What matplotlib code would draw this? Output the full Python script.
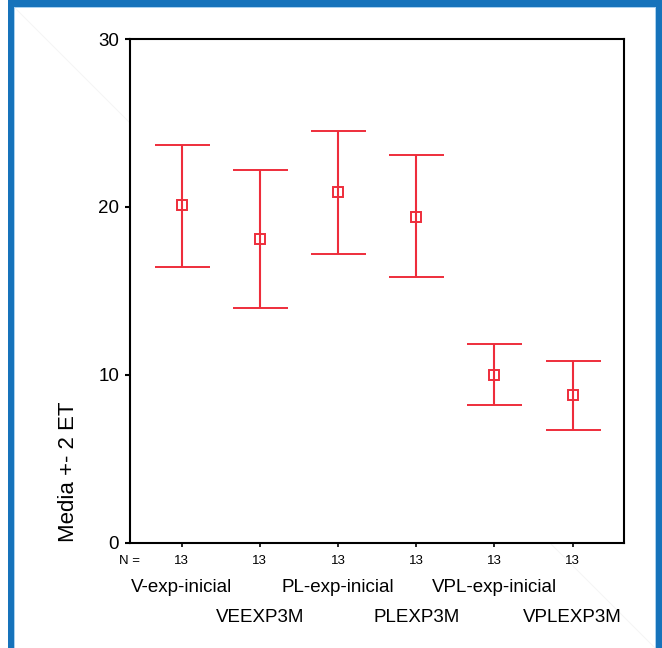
import matplotlib
matplotlib.use("Agg")
import matplotlib.pyplot as plt
from matplotlib.patches import Rectangle
from matplotlib.lines import Line2D
import matplotlib.transforms as mtransforms

plt.rcParams['font.family'] = ['Liberation Sans', 'DejaVu Sans']

# ---- data ----
categories = ["V-exp-inicial", "VEEXP3M", "PL-exp-inicial", "PLEXP3M",
              "VPL-exp-inicial", "VPLEXP3M"]
n_values = [13, 13, 13, 13, 13, 13]
means = [20.1, 18.1, 20.9, 19.4, 10.0, 8.8]
upper = [23.7, 22.2, 24.5, 23.1, 11.8, 10.8]
lower = [16.4, 14.0, 17.2, 15.8, 8.2, 6.7]
yticks = [0, 10, 20, 30]
ylabel = "Media +- 2 ET"

W, H = 662, 648
fig = plt.figure(figsize=(W / 100, H / 100), dpi=100)
fig.patch.set_facecolor("white")

# faint diagonal behind everything
fig.add_artist(Line2D([15 / W, 655 / W], [1 - 8 / H, 1 - 648 / H],
                      transform=fig.transFigure, color="#f4f4f4", lw=0.7, zorder=-5))

# blue frame
blue = "#1673bb"
light = "#a9d1ef"
fig.add_artist(Rectangle((8 / W, 0), 6 / W, 1, transform=fig.transFigure,
                         facecolor=blue, edgecolor="none", zorder=5))
fig.add_artist(Rectangle((14 / W, 0), 1.2 / W, 1 - 7 / H, transform=fig.transFigure,
                         facecolor=light, edgecolor="none", zorder=5))
fig.add_artist(Rectangle((8 / W, 1 - 7 / H), (W - 8) / W, 7 / H, transform=fig.transFigure,
                         facecolor=blue, edgecolor="none", zorder=5))
fig.add_artist(Rectangle((14 / W, 1 - 8.2 / H), (W - 20) / W, 1.2 / H, transform=fig.transFigure,
                         facecolor=light, edgecolor="none", zorder=5))
fig.add_artist(Rectangle((656 / W, 0), 6 / W, 1, transform=fig.transFigure,
                         facecolor=blue, edgecolor="none", zorder=5))
fig.add_artist(Rectangle((654.8 / W, 0), 1.2 / W, 1 - 7 / H, transform=fig.transFigure,
                         facecolor=light, edgecolor="none", zorder=5))

left, right = 130 / W, 623.5 / W
bottom, top = 1 - 542.5 / H, 1 - 39 / H
ax = fig.add_axes([left, bottom, right - left, top - bottom])

x = list(range(1, len(categories) + 1))
yerr_low = [m - l for m, l in zip(means, lower)]
yerr_up = [u - m for m, u in zip(means, upper)]
red = "#ee2d3b"
ax.errorbar(x, means, yerr=[yerr_low, yerr_up], fmt="s", color=red,
            ecolor=red, elinewidth=1.5, capsize=19.8, capthick=1.5,
            markersize=7.2, markerfacecolor="none", markeredgecolor=red,
            markeredgewidth=1.4)

ax.set_xlim(0.34, 6.65)
ax.set_ylim(0, 30)
ax.set_yticks(yticks)
ax.set_yticklabels([str(t) for t in yticks], fontsize=13.5)
ax.tick_params(axis="y", length=3.6, width=1.5, pad=4.3, direction="out")
ax.set_xticks(x)
ax.set_xticklabels([])
ax.tick_params(axis="x", length=2.9, width=1.2, direction="out")
for s in ax.spines.values():
    s.set_linewidth(1.5)
    s.set_color("black")

ah = 542.5 - 39
trans = mtransforms.blended_transform_factory(ax.transData, ax.transAxes)
for xi, n in zip(x, n_values):
    ax.text(xi, -18.0 / ah, str(n), transform=trans, ha="center", va="center",
            fontsize=9.5)
ax.text(10 / 493.5, -18.0 / ah, "N =", transform=ax.transAxes, ha="right",
        va="center", fontsize=9.5)
for i, (xi, cat) in enumerate(zip(x, categories)):
    yoff = -44.8 / ah if i % 2 == 0 else -74.8 / ah
    ax.text(xi, yoff, cat, transform=trans, ha="center", va="center",
            fontsize=13.5)

fig.text(69 / W, 1 - 472 / H, ylabel, rotation=90, ha="center", va="center",
         fontsize=16)

fig.savefig("out.png", dpi=100)
